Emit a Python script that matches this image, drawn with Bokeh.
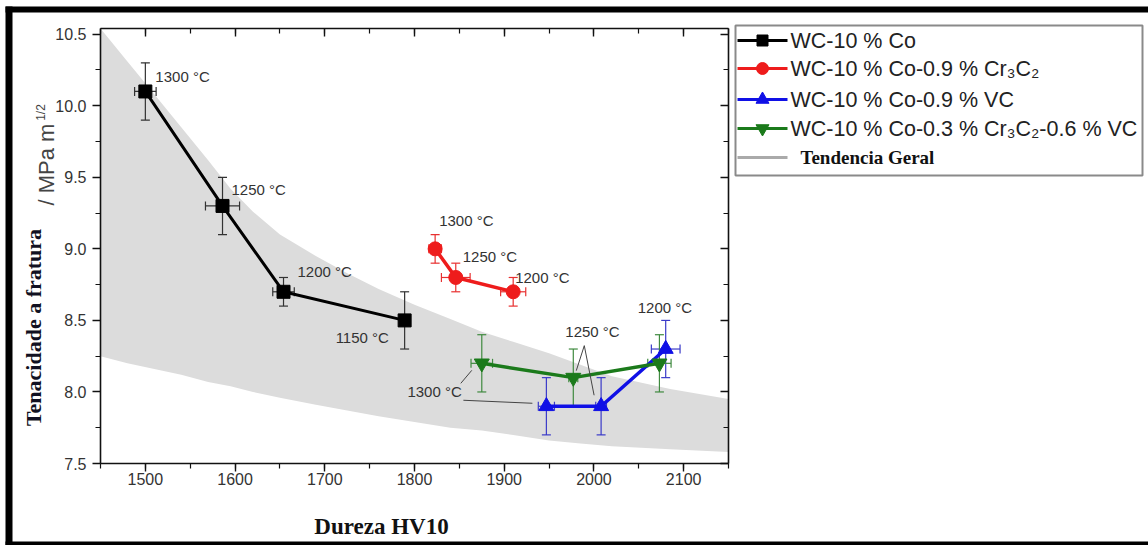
import math

from bokeh.core.properties import value
from bokeh.embed import file_html
from bokeh.models import (ColumnDataSource, LinearAxis, PrintfTickFormatter, Range1d,
                          SingleIntervalTicker, TeeHead, Whisker)
from bokeh.plotting import figure
from bokeh.resources import INLINE

# ---- data: Vickers hardness HV10 vs fracture toughness (MPa m^1/2) ----
co_hv = [1500, 1586, 1654, 1789]
co_k = [10.1, 9.3, 8.7, 8.5]
co_hv_err = [12, 19, 12, 0]
co_k_err = [0.2, 0.2, 0.1, 0.2]
co_temp = [1300, 1250, 1200, 1150]

cr_hv = [1823, 1846, 1910]
cr_k = [9.0, 8.8, 8.7]
cr_hv_err = [7, 16, 14]
cr_k_err = [0.1, 0.1, 0.1]
cr_temp = [1300, 1250, 1200]

vc_hv = [1947, 2008, 2080]
vc_k = [7.9, 7.9, 8.3]
vc_hv_err = [9, 6, 16]
vc_k_err = [0.2, 0.2, 0.2]
vc_temp = [1300, 1250, 1200]

crvc_hv = [1875, 1977, 2073]
crvc_k = [8.2, 8.1, 8.2]
crvc_hv_err = [12, 5, 13]
crvc_k_err = [0.2, 0.2, 0.2]
crvc_temp = [1300, 1250, 1200]

# general trend band (upper / lower envelope)
band_hv = [1450, 1480, 1510, 1540, 1570, 1595, 1620, 1650, 1690, 1725,
           1760, 1800, 1840, 1875, 1910, 1950, 1985, 2020, 2085, 2150]
band_upper = [10.54, 10.31, 10.08, 9.85, 9.62, 9.42, 9.26, 9.10, 8.95, 8.83,
              8.72, 8.61, 8.51, 8.42, 8.35, 8.27, 8.19, 8.11, 8.02, 7.95]
band_lower = [8.25, 8.20, 8.16, 8.12, 8.07, 8.04, 8.00, 7.96, 7.91, 7.87,
              7.83, 7.79, 7.75, 7.73, 7.70, 7.66, 7.64, 7.62, 7.60, 7.58]

series_names = [
    "WC-10 % Co",
    "WC-10 % Co-0.9 % Cr\u2083C\u2082",
    "WC-10 % Co-0.9 % VC",
    "WC-10 % Co-0.3 % Cr\u2083C\u2082-0.6 % VC",
]
series_colors = ["#000000", "#ee1c1c", "#1010e6", "#1b7a1b"]
series_markers = ["square", "circle", "triangle", "inverted_triangle"]
trend_name = "Tendencia Geral"
x_title = "Dureza HV10"
y_title = "Tenacidade a fratura"
y_unit = "/ MPa m"
y_unit_exp = "1/2"

# ---- geometry: the frame covers the whole page; the plotting box is
#      placed with fixed-location axes so that text outside it is not clipped ----
W, H = 1148, 545
X0, X1 = 1450, 2150
Y0, Y1 = 7.5, 10.54
BOX_L, BOX_R, BOX_T, BOX_B = 100, 728, 28, 463
KX = (X1 - X0) / (BOX_R - BOX_L)
KY = (Y1 - Y0) / (BOX_B - BOX_T)


def dx(px):
    return X0 + (px - BOX_L) * KX


def dy(py):
    return Y1 - (py - BOX_T) * KY


SANS = "Liberation Sans"
SERIF = "Liberation Serif"

p = figure(width=W, height=H, x_range=Range1d(dx(0), dx(W)), y_range=Range1d(dy(H), dy(0)),
           x_axis_type=None, y_axis_type=None,
           output_backend="svg", toolbar_location=None,
           min_border_left=0, min_border_right=0, min_border_top=0, min_border_bottom=0,
           background_fill_color="white", border_fill_color="white",
           outline_line_color=None)
p.grid.visible = False
p.title.visible = False

# ---- axes ----
xt = SingleIntervalTicker(interval=100, num_minor_ticks=2)
yt = SingleIntervalTicker(interval=0.5, num_minor_ticks=2)
ax_bottom = LinearAxis(ticker=xt, fixed_location=Y0, bounds=(X0, X1))
ax_left = LinearAxis(ticker=yt, fixed_location=X0, bounds=(Y0, Y1),
                     formatter=PrintfTickFormatter(format="%.1f"))
ax_top = LinearAxis(ticker=xt, fixed_location=Y1, bounds=(X0, X1))
ax_right = LinearAxis(ticker=yt, fixed_location=X1, bounds=(Y0, Y1))

for ax in [ax_bottom, ax_left, ax_top, ax_right]:
    ax.axis_line_color = "#111111"
    ax.axis_line_width = 1.6
    ax.major_tick_line_color = "#111111"
    ax.minor_tick_line_color = "#111111"
    ax.major_tick_line_width = 1.4
    ax.minor_tick_line_width = 1.2
    ax.major_label_text_font = SANS
    ax.major_label_text_font_size = "16px"
    ax.major_label_text_color = "#333333"

ax_bottom.major_label_standoff = 1
ax_left.major_label_standoff = 6
for ax in [ax_bottom, ax_left]:
    ax.major_tick_in = 0
    ax.major_tick_out = 8
    ax.minor_tick_in = 0
    ax.minor_tick_out = 5

for ax in [ax_top, ax_right]:
    ax.major_tick_in = 8
    ax.major_tick_out = 0
    ax.minor_tick_in = 5
    ax.minor_tick_out = 0
    ax.major_label_text_color = None
    ax.major_label_text_font_size = "0px"

p.add_layout(ax_bottom, "below")
p.add_layout(ax_left, "left")
p.add_layout(ax_top, "above")
p.add_layout(ax_right, "right")

# ---- trend band ----
band = p.varea(x=band_hv, y1=band_lower, y2=band_upper, fill_color="#dcdcdc", fill_alpha=1.0)
band.level = "image"


def add_series(hv, k, hv_err, k_err, color, marker, size, lw, bar_color):
    src = ColumnDataSource(dict(
        x=hv, y=k,
        ylo=[a - b for a, b in zip(k, k_err)],
        yhi=[a + b for a, b in zip(k, k_err)]))
    head = dict(size=9, line_color=bar_color, line_width=1.2)
    p.add_layout(Whisker(source=src, base="x", lower="ylo", upper="yhi", dimension="height",
                         line_color=bar_color, line_width=1.2, level="underlay",
                         lower_head=TeeHead(**head), upper_head=TeeHead(**head)))
    idx = [i for i, e in enumerate(hv_err) if e > 0]
    xsrc = ColumnDataSource(dict(
        y=[k[i] for i in idx],
        xlo=[hv[i] - hv_err[i] for i in idx],
        xhi=[hv[i] + hv_err[i] for i in idx]))
    p.add_layout(Whisker(source=xsrc, base="y", lower="xlo", upper="xhi", dimension="width",
                         line_color=bar_color, line_width=1.2, level="underlay",
                         lower_head=TeeHead(**head), upper_head=TeeHead(**head)))
    p.line("x", "y", source=src, line_color=color, line_width=lw)
    p.scatter("x", "y", source=src, marker=marker, size=size,
              fill_color=color, line_color=color)


add_series(co_hv, co_k, co_hv_err, co_k_err, series_colors[0], series_markers[0], 13, 3, "#333333")
add_series(cr_hv, cr_k, cr_hv_err, cr_k_err, series_colors[1], series_markers[1], 14, 3.5, "#e83030")
add_series(vc_hv, vc_k, vc_hv_err, vc_k_err, series_colors[2], series_markers[2], 15, 3.5, "#3a3ac8")
add_series(crvc_hv, crvc_k, crvc_hv_err, crvc_k_err, series_colors[3], series_markers[3], 15, 3.5, "#3f8a3f")


# ---- sintering temperature labels (offsets in pixels from the point) ----
def lbl(t):
    return f"{t} \u00b0C"


ann = [
    (co_hv[0], co_k[0], lbl(co_temp[0]), 10, -15),
    (co_hv[1], co_k[1], lbl(co_temp[1]), 9, -16),
    (co_hv[2], co_k[2], lbl(co_temp[2]), 14, -20),
    (co_hv[3], co_k[3], lbl(co_temp[3]), -69, 17),
    (cr_hv[0], cr_k[0], lbl(cr_temp[0]), 4, -28),
    (cr_hv[1], cr_k[1], lbl(cr_temp[1]), 7, -21),
    (cr_hv[2], cr_k[2], lbl(cr_temp[2]), 2, -14),
    (vc_hv[2], vc_k[2], lbl(vc_temp[2]), -28, -42),
    (crvc_hv[1], crvc_k[1], lbl(crvc_temp[1]), -8, -46),
    (vc_hv[0], vc_k[0], lbl(vc_temp[0]), -139, -15),
]
asrc = ColumnDataSource(dict(
    x=[a[0] for a in ann], y=[a[1] for a in ann], text=[a[2] for a in ann],
    xo=[a[3] for a in ann], yo=[a[4] for a in ann]))
p.text("x", "y", text="text", x_offset="xo", y_offset="yo", source=asrc,
       text_font=value(SANS), text_font_size="15px", text_color="#333333",
       text_align="left", text_baseline="middle")


# leader lines from the shared labels to their points (pixel offsets -> data)
def off(hv, k, ox, oy):
    return hv + ox * KX, k - oy * KY


leaders = [
    (off(crvc_hv[1], crvc_k[1], 11, -32), off(crvc_hv[1], crvc_k[1], 3, -7)),
    (off(crvc_hv[1], crvc_k[1], 11, -32), off(vc_hv[1], vc_k[1], -7, -11)),
    (off(vc_hv[0], vc_k[0], -83, -6), off(vc_hv[0], vc_k[0], -14, -3)),
    (off(crvc_hv[0], crvc_k[0], -21, 20), off(crvc_hv[0], crvc_k[0], -10, 7)),
]
p.segment(x0=[l[0][0] for l in leaders], y0=[l[0][1] for l in leaders],
          x1=[l[1][0] for l in leaders], y1=[l[1][1] for l in leaders],
          line_color="#444444", line_width=1)

# ---- axis titles ----
p.text(x=[dx(381)], y=[dy(526)], text=[x_title], text_font=value(SERIF),
       text_font_style="bold", text_font_size="23px", text_color="#111111",
       text_align="center", text_baseline="middle")
p.text(x=[dx(33)], y=[dy(327)], text=[y_title], angle=math.pi / 2, text_font=value(SERIF),
       text_font_style="bold", text_font_size="22px", text_color="#111122",
       text_align="center", text_baseline="middle")
p.text(x=[dx(46)], y=[dy(164)], text=[y_unit], angle=math.pi / 2, text_font=value(SANS),
       text_font_size="22px", text_color="#444444",
       text_align="center", text_baseline="middle")
p.text(x=[dx(40)], y=[dy(112)], text=[y_unit_exp], angle=math.pi / 2, text_font=value(SANS),
       text_font_size="12px", text_color="#444444",
       text_align="center", text_baseline="middle")

# ---- legend (box, samples, labels) ----
p.quad(left=[dx(735)], right=[dx(1142)], top=[dy(25)], bottom=[dy(175)],
       fill_color=None, line_color="#8a8a8a", line_width=2)
row_y = [40, 68, 99, 128]
p.segment(x0=[dx(737)] * 4, x1=[dx(787)] * 4, y0=[dy(r) for r in row_y],
          y1=[dy(r) for r in row_y], line_color=series_colors, line_width=3)
p.scatter(x=[dx(762)] * 4, y=[dy(r) for r in row_y], marker=series_markers,
          size=[11, 12, 13, 13], fill_color=series_colors, line_color=series_colors)
p.text(x=[dx(790)] * 4, y=[dy(r) for r in row_y], text=series_names,
       text_font=value(SANS), text_font_size="21.5px", text_color="#222222",
       text_align="left", text_baseline="middle")
p.segment(x0=[dx(737)], x1=[dx(787)], y0=[dy(157)], y1=[dy(157)],
          line_color="#aaaaaa", line_width=3)
p.text(x=[dx(800)], y=[dy(157)], text=[trend_name], text_font=value(SERIF),
       text_font_style="bold", text_font_size="19px", text_color="#111111",
       text_align="left", text_baseline="middle")

# ---- thick frame around the page ----
p.segment(x0=[dx(5), dx(8.5), dx(5)], x1=[dx(W + 5), dx(8.5), dx(W + 5)],
          y0=[dy(9), dy(6), dy(543.5)], y1=[dy(9), dy(H + 5), dy(543.5)],
          line_color="#000000", line_width=[6, 7, 5])

open("out.html", "w").write(file_html(p, INLINE))
